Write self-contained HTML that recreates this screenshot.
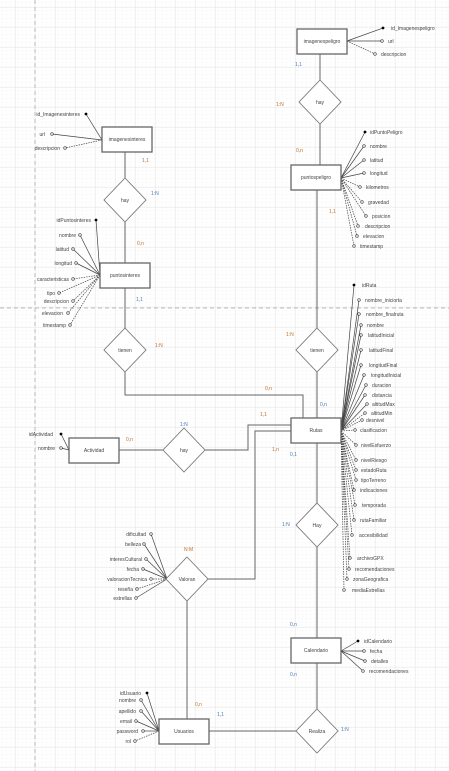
<!DOCTYPE html>
<html><head><meta charset="utf-8"><style>
html,body{margin:0;padding:0;background:#fff}
svg{display:block}
text{font-family:"Liberation Sans",sans-serif;font-size:5px;fill:#444}
.b{fill:#4a7bb7}.o{fill:#c0702c}
</style></head><body>
<svg width="449" height="771" viewBox="0 0 449 771" xmlns="http://www.w3.org/2000/svg">
<defs>
<pattern id="mn" width="4" height="4" patternUnits="userSpaceOnUse" x="-1" y="3"><path d="M4 0V4M0 4H4" stroke="#f3f3f3" stroke-width="0.5" fill="none"/></pattern>
<pattern id="mj" width="20" height="20" patternUnits="userSpaceOnUse" x="-5" y="7"><path d="M0 0H20M0 0V20" stroke="#dcdcdc" stroke-width="0.7" fill="none"/></pattern>
</defs>
<rect width="449" height="771" fill="url(#mn)"/>
<rect width="449" height="771" fill="url(#mj)"/>
<line x1="35" y1="0" x2="35" y2="771" stroke="#aaa" stroke-width="0.8" stroke-dasharray="4,3"/>
<line x1="0" y1="308" x2="449" y2="308" stroke="#aaa" stroke-width="0.8" stroke-dasharray="4,3"/>

<g stroke="#666" stroke-width="1" fill="none">
<!-- connectors -->
<line x1="320" y1="54" x2="320" y2="80"/><line x1="320" y1="124" x2="320" y2="165"/>
<line x1="317" y1="190" x2="317" y2="328"/><line x1="317" y1="372" x2="317" y2="418"/>
<line x1="125" y1="152" x2="125" y2="178"/><line x1="125" y1="222" x2="125" y2="263"/>
<line x1="125" y1="288" x2="125" y2="328"/>
<polyline points="125,372 125,395 303,395 303,418"/>
<polyline points="205,450 248,450 248,425 291,425"/>
<line x1="119" y1="450" x2="163" y2="450"/>
<polyline points="207,579 255,579 255,431 291,431"/>
<line x1="317" y1="443" x2="317" y2="503"/><line x1="317" y1="547" x2="317" y2="638"/>
<line x1="317" y1="663" x2="317" y2="709"/>
<line x1="209" y1="731" x2="296" y2="731"/>
<line x1="187" y1="601" x2="187" y2="719"/>
</g>

<!-- attribute lines -->
<g stroke="#444" stroke-width="0.7" fill="none">
<line x1="347" y1="41" x2="383" y2="28"/><line x1="347" y1="41" x2="382" y2="41"/>
<line x1="347" y1="41" x2="375" y2="54" stroke-dasharray="1.5,1"/>
<line x1="102" y1="140" x2="86" y2="114"/><line x1="102" y1="140" x2="52" y2="134"/>
<line x1="102" y1="140" x2="65" y2="148" stroke-dasharray="1.5,1"/>
<line x1="341" y1="178" x2="365" y2="132"/><line x1="341" y1="178" x2="364" y2="146"/>
<line x1="341" y1="178" x2="364" y2="160"/><line x1="341" y1="178" x2="364" y2="173"/>
<g stroke-dasharray="1.5,1"><line x1="341" y1="178" x2="360" y2="187"/><line x1="341" y1="178" x2="362" y2="202"/>
<line x1="341" y1="178" x2="366" y2="216"/><line x1="341" y1="178" x2="358" y2="226"/>
<line x1="341" y1="178" x2="357" y2="236"/><line x1="341" y1="178" x2="354" y2="246"/></g>
<line x1="100" y1="275" x2="96" y2="220"/><line x1="100" y1="275" x2="80" y2="235"/>
<line x1="100" y1="275" x2="73" y2="249"/><line x1="100" y1="275" x2="76" y2="263"/>
<g stroke-dasharray="1.5,1"><line x1="100" y1="275" x2="73" y2="279"/><line x1="100" y1="275" x2="59" y2="293"/>
<line x1="100" y1="275" x2="73" y2="301"/><line x1="100" y1="275" x2="68" y2="313"/><line x1="100" y1="275" x2="70" y2="325"/></g>
<line x1="341" y1="431" x2="354" y2="285"/><line x1="341" y1="431" x2="359" y2="300"/>
<line x1="341" y1="431" x2="359" y2="314"/><line x1="341" y1="431" x2="361" y2="325"/>
<line x1="341" y1="431" x2="361" y2="335"/><line x1="341" y1="431" x2="361" y2="350"/>
<line x1="341" y1="431" x2="361" y2="365"/><line x1="341" y1="431" x2="364" y2="375"/>
<line x1="341" y1="431" x2="366" y2="385"/><line x1="341" y1="431" x2="365" y2="395"/>
<line x1="341" y1="431" x2="367" y2="404"/>
<g stroke-dasharray="1.5,1"><line x1="341" y1="431" x2="365" y2="413"/><line x1="341" y1="431" x2="362" y2="420"/>
<line x1="341" y1="431" x2="355" y2="430"/><line x1="341" y1="431" x2="356" y2="445"/>
<line x1="341" y1="431" x2="356" y2="460"/><line x1="341" y1="431" x2="356" y2="470"/>
<line x1="341" y1="431" x2="356" y2="480"/><line x1="341" y1="431" x2="354" y2="490"/>
<line x1="341" y1="431" x2="355" y2="505"/><line x1="341" y1="431" x2="354" y2="520"/>
<line x1="341" y1="431" x2="352" y2="535"/><line x1="341" y1="431" x2="350" y2="558"/>
<line x1="341" y1="431" x2="349" y2="569"/><line x1="341" y1="431" x2="347" y2="579"/>
<line x1="341" y1="431" x2="344" y2="590"/></g>
<line x1="69" y1="450" x2="61" y2="434"/><line x1="69" y1="450" x2="61" y2="448"/>
<line x1="167" y1="579" x2="151" y2="534"/><line x1="167" y1="579" x2="144" y2="544"/>
<line x1="167" y1="579" x2="146" y2="559"/><line x1="167" y1="579" x2="143" y2="569"/>
<line x1="167" y1="579" x2="151" y2="579" stroke-dasharray="1.5,1"/><line x1="167" y1="579" x2="137" y2="589" stroke-dasharray="1.5,1"/>
<line x1="167" y1="579" x2="136" y2="598"/>
<line x1="341" y1="651" x2="358" y2="641"/><line x1="341" y1="651" x2="364" y2="651"/>
<line x1="341" y1="651" x2="365" y2="661"/><line x1="341" y1="651" x2="363" y2="671"/>
<line x1="159" y1="731" x2="147" y2="693"/><line x1="159" y1="731" x2="141" y2="700"/>
<line x1="159" y1="731" x2="141" y2="711"/><line x1="159" y1="731" x2="136" y2="721"/>
<line x1="159" y1="731" x2="143" y2="731"/><line x1="159" y1="731" x2="135" y2="741" stroke-dasharray="1.5,1"/>
</g>

<!-- dots -->
<g fill="#000"><circle cx="383" cy="28" r="1.4"/><circle cx="86" cy="114" r="1.4"/><circle cx="365" cy="132" r="1.4"/>
<circle cx="96" cy="220" r="1.4"/><circle cx="354" cy="285" r="1.4"/><circle cx="61" cy="434" r="1.4"/>
<circle cx="358" cy="641" r="1.4"/><circle cx="147" cy="693" r="1.4"/></g>
<g fill="#fff" stroke="#333" stroke-width="0.6">
<circle cx="382" cy="41" r="1.3"/><circle cx="375" cy="54" r="1.3"/><circle cx="52" cy="134" r="1.3"/><circle cx="65" cy="148" r="1.3"/>
<circle cx="364" cy="146" r="1.3"/><circle cx="364" cy="160" r="1.3"/><circle cx="364" cy="173" r="1.3"/><circle cx="360" cy="187" r="1.3"/>
<circle cx="362" cy="202" r="1.3"/><circle cx="366" cy="216" r="1.3"/><circle cx="358" cy="226" r="1.3"/><circle cx="357" cy="236" r="1.3"/><circle cx="354" cy="246" r="1.3"/>
<circle cx="80" cy="235" r="1.3"/><circle cx="73" cy="249" r="1.3"/><circle cx="76" cy="263" r="1.3"/><circle cx="73" cy="279" r="1.3"/>
<circle cx="59" cy="293" r="1.3"/><circle cx="73" cy="301" r="1.3"/><circle cx="68" cy="313" r="1.3"/><circle cx="70" cy="325" r="1.3"/>
<circle cx="359" cy="300" r="1.3"/><circle cx="359" cy="314" r="1.3"/><circle cx="361" cy="325" r="1.3"/><circle cx="361" cy="335" r="1.3"/>
<circle cx="361" cy="350" r="1.3"/><circle cx="361" cy="365" r="1.3"/><circle cx="364" cy="375" r="1.3"/><circle cx="366" cy="385" r="1.3"/>
<circle cx="365" cy="395" r="1.3"/><circle cx="367" cy="404" r="1.3"/><circle cx="365" cy="413" r="1.3"/><circle cx="362" cy="420" r="1.3"/>
<circle cx="355" cy="430" r="1.3"/><circle cx="356" cy="445" r="1.3"/><circle cx="356" cy="460" r="1.3"/><circle cx="356" cy="470" r="1.3"/>
<circle cx="356" cy="480" r="1.3"/><circle cx="354" cy="490" r="1.3"/><circle cx="355" cy="505" r="1.3"/><circle cx="354" cy="520" r="1.3"/>
<circle cx="352" cy="535" r="1.3"/><circle cx="350" cy="558" r="1.3"/><circle cx="349" cy="569" r="1.3"/><circle cx="347" cy="579" r="1.3"/><circle cx="344" cy="590" r="1.3"/>
<circle cx="61" cy="448" r="1.3"/>
<circle cx="151" cy="534" r="1.3"/><circle cx="144" cy="544" r="1.3"/><circle cx="146" cy="559" r="1.3"/><circle cx="143" cy="569" r="1.3"/>
<circle cx="151" cy="579" r="1.3"/><circle cx="137" cy="589" r="1.3"/><circle cx="136" cy="598" r="1.3"/>
<circle cx="364" cy="651" r="1.3"/><circle cx="365" cy="661" r="1.3"/><circle cx="363" cy="671" r="1.3"/>
<circle cx="141" cy="700" r="1.3"/><circle cx="141" cy="711" r="1.3"/><circle cx="136" cy="721" r="1.3"/><circle cx="143" cy="731" r="1.3"/><circle cx="135" cy="741" r="1.3"/>
</g>

<!-- entities -->
<g fill="#fff" stroke="#666" stroke-width="1.3">
<rect x="297" y="29" width="50" height="25"/><rect x="291" y="165" width="50" height="25"/>
<rect x="102" y="127" width="50" height="25"/><rect x="100" y="263" width="50" height="25"/>
<rect x="291" y="418" width="50" height="25"/><rect x="69" y="438" width="50" height="25"/>
<rect x="291" y="638" width="50" height="25"/><rect x="159" y="719" width="50" height="25"/>
</g>
<g fill="#fff" stroke="#777" stroke-width="0.9">
<polygon points="320,80 341,102 320,124 299,102"/><polygon points="125,178 146,200 125,222 104,200"/>
<polygon points="317,328 338,350 317,372 296,350"/><polygon points="125,328 146,350 125,372 104,350"/>
<polygon points="184,428 205,450 184,472 163,450"/><polygon points="317,503 338,525 317,547 296,525"/>
<polygon points="187,557 208,579 187,601 166,579"/><polygon points="317,709 338,731 317,753 296,731"/>
</g>

<g text-anchor="middle">
<text x="322" y="43">imagenespeligro</text><text x="316" y="179">puntospeligro</text>
<text x="127" y="141">imagenesinteres</text><text x="125" y="277">puntosinteres</text>
<text x="316" y="432">Rutas</text><text x="94" y="452">Actividad</text>
<text x="316" y="652">Calendario</text><text x="184" y="733">Usuarios</text>
<text x="320" y="104">hay</text><text x="125" y="202">hay</text><text x="317" y="352">tienen</text><text x="125" y="352">tienen</text>
<text x="184" y="452">hay</text><text x="317" y="527">Hay</text><text x="187" y="581">Valoran</text><text x="317" y="733">Realiza</text>
</g>

<!-- attribute labels right side -->
<text x="391" y="30">id_Imagenespeligro</text><text x="388" y="43">url</text><text x="381" y="56">descripcion</text>
<text x="370" y="134">idPuntoPeligro</text><text x="370" y="148">nombre</text><text x="370" y="162">latitud</text><text x="370" y="175">longitud</text>
<text x="366" y="189">kilometros</text><text x="368" y="204">gravedad</text><text x="372" y="218">posicion</text><text x="365" y="228">descripcion</text>
<text x="363" y="238">elevacion</text><text x="360" y="248">timestamp</text>
<text x="362" y="287">idRuta</text><text x="365" y="302">nombre_iniciorta</text><text x="366" y="316">nombre_finalruta</text><text x="367" y="327">nombre</text>
<text x="368" y="337">latitudInicial</text><text x="369" y="352">latitudFinal</text><text x="369" y="367">longitudFinal</text><text x="371" y="377">longitudInicial</text>
<text x="372" y="387">duracion</text><text x="372" y="397">distancia</text><text x="372" y="406">altitudMax</text><text x="371" y="415">altitudMin</text>
<text x="366" y="422">desnivel</text><text x="360" y="432">clasificacion</text><text x="361" y="447">nivelEsfuerzo</text>
<text x="361" y="462">nivelRiesgo</text><text x="361" y="472">estadoRuta</text><text x="361" y="482">tipoTerreno</text><text x="360" y="492">indicaciones</text>
<text x="362" y="507">temporada</text><text x="360" y="522">rutaFamiliar</text><text x="359" y="537">accesibilidad</text>
<text x="357" y="560">archivoGPX</text><text x="355" y="571">recomendaciones</text><text x="353" y="581">zonaGeografica</text><text x="352" y="592">mediaEstrellas</text>
<text x="364" y="643">idCalendario</text><text x="370" y="653">fecha</text><text x="371" y="663">detalles</text><text x="369" y="673">recomendaciones</text>

<g text-anchor="end">
<text x="80" y="116">id_Imagenesinteres</text><text x="45" y="136">url</text><text x="60" y="150">descripcion</text>
<text x="91" y="222">idPuntosinteres</text><text x="76" y="237">nombre</text><text x="69" y="251">latitud</text><text x="72" y="265">longitud</text>
<text x="69" y="281">caracteristicas</text><text x="55" y="295">tipo</text><text x="69" y="303">descripcion</text><text x="63" y="315">elevacion</text><text x="66" y="327">timestamp</text>
<text x="53" y="436">idActividad</text><text x="55" y="450">nombre</text>
<text x="146" y="536">dificultad</text><text x="141" y="546">belleza</text><text x="142" y="561">interesCultural</text><text x="139" y="571">fecha</text>
<text x="147" y="581">valoracionTecnica</text><text x="133" y="591">reseña</text><text x="132" y="600">estrellas</text>
<text x="141" y="695">idUsuario</text><text x="136" y="702">nombre</text><text x="136" y="713">apellido</text><text x="132" y="723">email</text>
<text x="138" y="733">password</text><text x="131" y="743">rol</text>
</g>

<!-- cardinalities -->
<text class="b" x="295" y="66">1,1</text><text class="o" x="276" y="106">1:N</text><text class="o" x="296" y="152">0,n</text>
<text class="o" x="329" y="213">1,1</text>
<text class="o" x="142" y="162">1,1</text><text class="b" x="151" y="195">1:N</text><text class="o" x="137" y="245">0,n</text>
<text class="b" x="136" y="301">1,1</text><text class="o" x="155" y="347">1:N</text><text class="o" x="286" y="336">1:N</text>
<text class="o" x="265" y="390">0,n</text><text class="o" x="260" y="416">1,1</text><text class="b" x="320" y="406">0,n</text>
<text class="o" x="272" y="451">1,n</text><text class="b" x="290" y="456">0,1</text>
<text class="o" x="126" y="441">0,n</text><text class="b" x="180" y="426">1:N</text>
<text class="b" x="282" y="526">1:N</text><text class="o" x="184" y="551">N:M</text>
<text class="b" x="290" y="626">0,n</text><text class="b" x="290" y="676">0,n</text>
<text class="o" x="195" y="706">0,n</text><text class="b" x="217" y="716">1,1</text><text class="b" x="341" y="731">1:N</text>
</svg>
</body></html>
